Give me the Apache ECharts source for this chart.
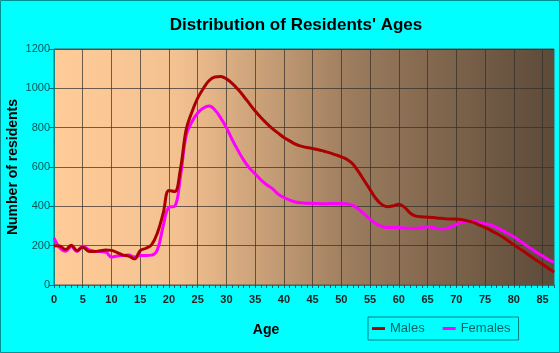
<!DOCTYPE html>
<html>
<head>
<meta charset="utf-8">
<script src="https://cdn.jsdelivr.net/npm/echarts@6/dist/echarts.min.js"></script>
<style>
  html, body { margin: 0; padding: 0; background: #00ffff; }
  #chart { width: 560px; height: 353px; }
</style>
</head>
<body>
<div id="chart"></div>
<script>
// ages 0..87
const ages = []
for (let a = 0; a <= 87; a++) ages.push(String(a))

const males = [
  200, 198, 180, 202, 176, 192, 172, 170, 174, 178,
  176, 165, 152, 147, 133, 175, 187, 205, 265, 365,
  480, 475, 590, 790, 880, 950, 1000, 1040, 1058, 1060,
  1048, 1025, 995, 960, 922, 885, 852, 822, 795, 772,
  750, 733, 716, 706, 699, 694, 688, 680, 672, 662,
  652, 638, 615, 575, 530, 485, 440, 410, 398, 402,
  410, 395, 365, 350, 347, 345, 343, 340, 337, 335,
  335, 332, 326, 318, 305, 292, 278, 262, 245, 225,
  205, 185, 165, 145, 125, 105, 85, 65
]

const females = [
  238, 190, 172, 196, 170, 198, 180, 172, 170, 168,
  142, 148, 150, 152, 142, 150, 150, 152, 180, 300,
  395, 400, 550, 760, 830, 875, 900, 910, 890, 850,
  800, 740, 685, 635, 595, 565, 535, 510, 490, 462,
  445, 432, 422, 418, 416, 415, 414, 413, 414, 415,
  415, 413, 405, 385, 360, 335, 312, 298, 292, 292,
  293, 290, 288, 288, 292, 296, 292, 286, 286, 295,
  308, 320, 325, 323, 318, 312, 305, 292, 278, 262,
  245, 225, 205, 185, 165, 148, 130, 115
]

const font = 'Arial, "Liberation Sans", sans-serif'
const chart = echarts.init(document.getElementById('chart'))

chart.setOption({
  animation: false,
  backgroundColor: '#00ffff',
  title: {
    text: "Distribution of Residents' Ages",
    left: 291,
    top: 12,
    textAlign: 'center',
    textStyle: { fontFamily: font, fontSize: 17, fontWeight: 'bold', color: '#000' }
  },
  graphic: [{
    type: 'rect',
    shape: { x: 0.5, y: 0.5, width: 559, height: 352 },
    style: { fill: 'none', stroke: '#009090', lineWidth: 1 },
    silent: true
  }],
  legend: {
    left: 368,
    top: 317,
    orient: 'horizontal',
    padding: [5, 8, 5, 4],
    borderColor: '#008080',
    borderWidth: 1,
    itemGap: 18,
    itemWidth: 13,
    itemHeight: 3,
    icon: 'rect',
    textStyle: { fontFamily: font, fontSize: 13, color: '#006666' },
    data: ['Males', 'Females']
  },
  grid: {
    left: 54,
    right: 6,
    top: 49,
    bottom: 68,
    containLabel: false,
    outerBoundsMode: 'none',
    show: true,
    borderColor: '#555',
    borderWidth: 1,
    backgroundColor: new echarts.graphic.LinearGradient(0, 0, 1, 0, [
      { offset: 0, color: '#ffcc99' },
      { offset: 0.25, color: '#f3c190' },
      { offset: 0.6, color: '#9b7b5d' },
      { offset: 1, color: '#5c4a39' }
    ])
  },
  xAxis: {
    type: 'category',
    data: ages,
    boundaryGap: false,
    name: 'Age',
    nameLocation: 'middle',
    nameGap: 38,
    nameMoveOverlap: false,
    nameTextStyle: { fontFamily: font, fontSize: 14, fontWeight: 'bold', color: '#000', padding: [0, 76, 0, 0] },
    axisLine: { lineStyle: { color: '#008888' } },
    axisTick: { interval: 0, length: 3, lineStyle: { color: '#006666' } },
    axisLabel: { interval: 4, margin: 9, fontFamily: font, fontSize: 11, fontWeight: 'bold', color: '#222' },
    splitLine: { show: true, interval: 4, lineStyle: { color: 'rgba(50,45,40,0.7)', width: 1 } }
  },
  yAxis: {
    type: 'value',
    min: 0,
    max: 1200,
    interval: 200,
    name: 'Number of residents',
    nameLocation: 'middle',
    nameGap: 34,
    nameMoveOverlap: false,
    nameTextStyle: { fontFamily: font, fontSize: 14, fontWeight: 'bold', color: '#000' },
    axisLine: { show: true, lineStyle: { color: '#008888' } },
    axisTick: { show: true, length: 5, lineStyle: { color: '#006666' } },
    axisLabel: { margin: 4, fontFamily: font, fontSize: 11, color: '#005555', formatter: v => String(v) },
    splitLine: { lineStyle: { color: 'rgba(50,45,40,0.7)', width: 1 } }
  },
  series: [
    {
      name: 'Males',
      type: 'line',
      data: males,
      smooth: 0.4,
      symbol: 'none',
      lineStyle: { color: '#aa0000', width: 3 },
      itemStyle: { color: '#aa0000' }
    },
    {
      name: 'Females',
      type: 'line',
      data: females,
      smooth: 0.4,
      symbol: 'none',
      z: 1,
      lineStyle: { color: '#ff00ff', width: 3 },
      itemStyle: { color: '#ff00ff' }
    }
  ]
})
</script>
</body>
</html>
